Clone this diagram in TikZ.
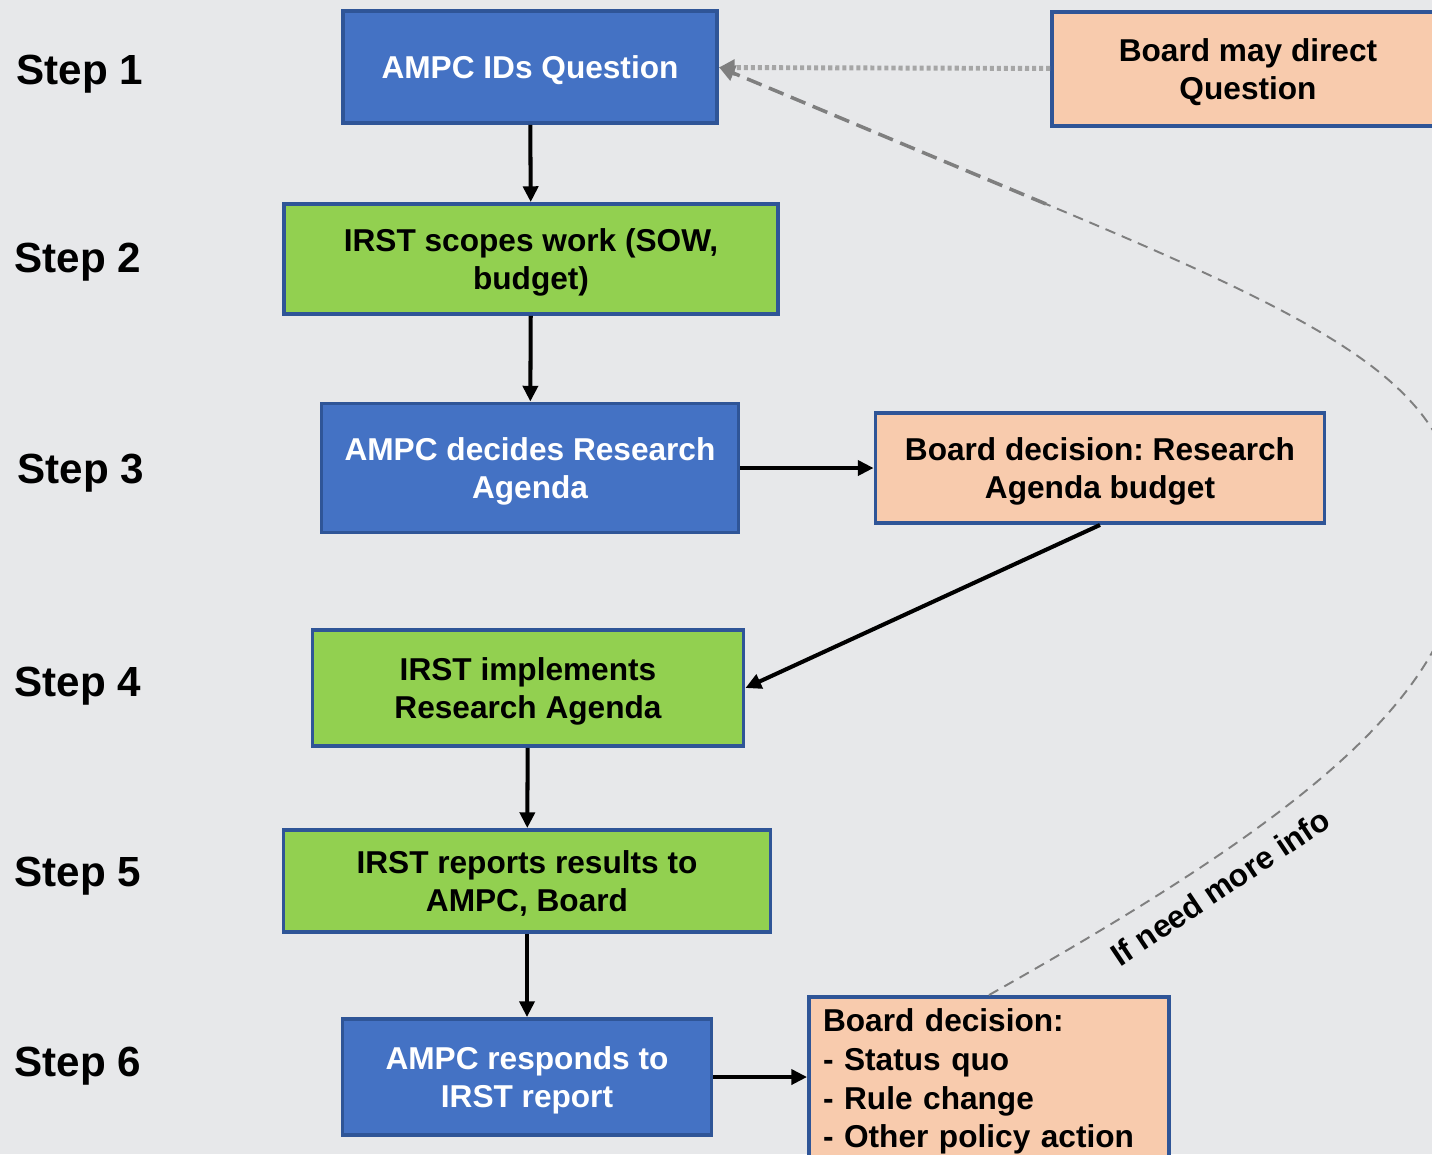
\documentclass[tikz,border=0pt]{standalone}
\usepackage{fontspec}
\setmainfont{Liberation Sans}
\frenchspacing
\usepackage{tikz}
\usetikzlibrary{arrows.meta}
\definecolor{bg}{HTML}{E7E8EA}
\definecolor{boxblue}{HTML}{4472C4}
\definecolor{boxline}{HTML}{2F5597}
\definecolor{boxgreen}{HTML}{92D050}
\definecolor{boxpeach}{HTML}{F8CBAD}
\definecolor{dotgray}{HTML}{A6A6A6}
\definecolor{dashgray}{HTML}{7F7F7F}

\begin{document}
\begin{tikzpicture}[x=0.02cm, y=-0.02cm, font=\bfseries\fontsize{18}{22}\selectfont,
  lift/.store in=\boxlift, lift=39pt,
  box/.style={draw=boxline, line width=2.2pt, align=center, inner sep=2pt},
  mid/.style={execute at begin node={\rule{0pt}{\boxlift}}, execute at end node={\rule[-4pt]{0pt}{4pt}}},
  blue box/.style={box, mid, fill=boxblue, text=white},
  green box/.style={box, mid, fill=boxgreen},
  peach box/.style={box, mid, fill=boxpeach},
  step label/.style={font=\bfseries\fontsize{24}{28}\selectfont},
  flow/.style={line width=2.3pt, -{Triangle[length=9pt,width=8.5pt]}},
  hint/.style={dotgray, line width=2.8pt, dash pattern=on 2.3pt off 1.7pt,
    -{Triangle[length=9pt,width=9pt,color=dashgray]}},
  loop back/.style={dashgray, line width=1.1pt, dash pattern=on 6pt off 4pt}]
\useasboundingbox (0,0) rectangle (1432,1154);
\clip (0,0) rectangle (1432,1154);
\fill[bg] (0,0) rectangle (1432,1154);

\node[step label] (s1) at (80,74) {Step 1};
\node[step label] (s2) at (78,262) {Step 2};
\node[step label] (s3) at (81,473) {Step 3};
\node[step label] (s4) at (78,686) {Step 4};
\node[step label] (s5) at (78,876) {Step 5};
\node[step label] (s6) at (78,1066) {Step 6};

\node[blue box, lift=17pt, minimum width=7.48cm, minimum height=2.24cm] (ids) at (530,67) {AMPC IDs Question};
\node[green box, minimum width=9.88cm, minimum height=2.2cm] (scope) at (531,259) {IRST scopes work (SOW,\\budget)};
\node[blue box, minimum width=8.34cm, minimum height=2.58cm] (agenda) at (530,468) {AMPC decides Research\\Agenda};
\node[peach box, minimum width=8.98cm, minimum height=2.2cm] (budget) at (1100,468) {Board decision: Research\\Agenda budget};
\node[green box, minimum width=8.62cm, minimum height=2.32cm] (impl) at (528,688) {IRST implements\\Research Agenda};
\node[green box, minimum width=9.74cm, minimum height=2.04cm] (report) at (527,881) {IRST reports results to\\AMPC, Board};
\node[blue box, minimum width=7.38cm, minimum height=2.32cm] (respond) at (527,1077) {AMPC responds to\\IRST report};
\node[box, fill=boxpeach, anchor=north, align=left, text width=6.64cm, inner xsep=0.28cm, inner ysep=0.24cm] (decide) at (989,995)
  {Board decision:\\- Status quo\\- Rule change\\- Other policy action};
\node[peach box, minimum width=7.84cm, minimum height=2.28cm] (direct) at (1248,69) {Board may direct\\Question};

\path[flow]
(ids) edge (scope)
(scope) edge (agenda)
(agenda) edge (budget)
(budget.south) edge (impl.east)
(impl) edge (report)
(report) edge (respond)
(respond.east) edge (respond.east -| decide.west);

% board can send it back for more info
\coordinate (rim) at (1462,545);
\coordinate (bend) at (1046,204);
\draw[loop back] (decide.north) .. controls (1293,824) and (1462,695) .. (rim)
  node[pos=0.27, sloped, below=5pt, text=black] {If need more info}
  .. controls (1462,395) and (1369,339) .. (bend);
\draw[loop back, line width=2pt, dash pattern=on 9pt off 4.5pt,
  -{Triangle[length=9pt,width=9pt]}] (bend) -- (ids.east);
\path[hint] (direct) edge (ids);
\end{tikzpicture}
\end{document}
